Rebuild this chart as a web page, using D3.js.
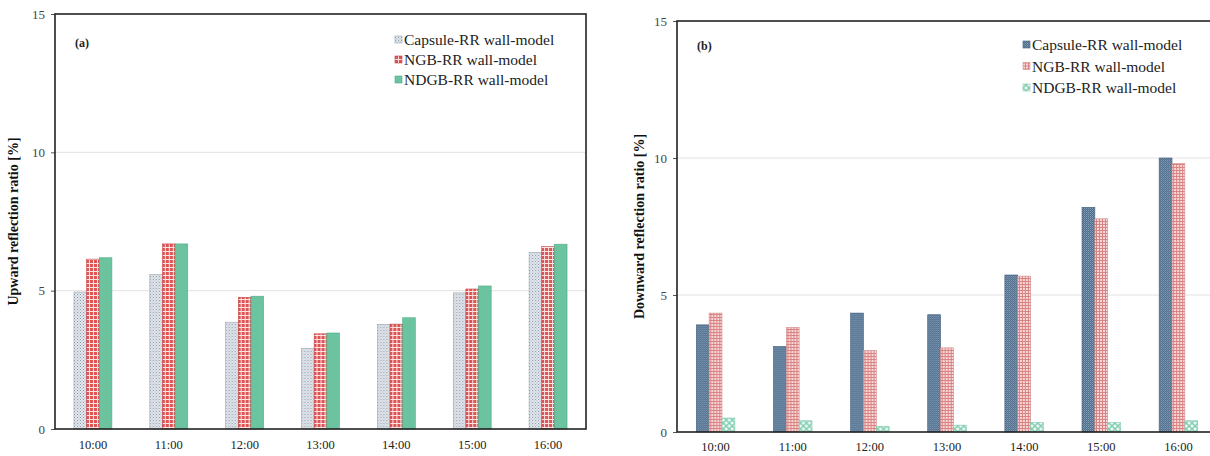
<!DOCTYPE html>
<html>
<head>
<meta charset="utf-8">
<script src="https://cdn.jsdelivr.net/npm/d3@7"></script>
<style>
  body { margin: 0; background: #fff; }
  svg { display: block; }
</style>
</head>
<body>
<svg id="chart" width="1210" height="456"></svg>
<script>
var times = ["10:00", "11:00", "12:00", "13:00", "14:00", "15:00", "16:00"];
var seriesNames = ["Capsule-RR wall-model", "NGB-RR wall-model", "NDGB-RR wall-model"];
var yTicks = [0, 5, 10, 15];

// panel (a) upward
var upCapsule = [4.95, 5.58, 3.86, 2.91, 3.78, 4.92, 6.38];
var upNGB = [6.14, 6.69, 4.76, 3.44, 3.79, 5.06, 6.59];
var upNDGB = [6.19, 6.69, 4.8, 3.47, 4.02, 5.17, 6.68];

// panel (b) downward
var downCapsule = [3.91, 3.12, 4.34, 4.28, 5.73, 8.2, 10.0];
var downNGB = [4.34, 3.82, 2.97, 3.07, 5.69, 7.78, 9.8];
var downNDGB = [0.51, 0.41, 0.21, 0.25, 0.35, 0.34, 0.41];

var svg = d3.select("#chart");
var defs = svg.append("defs");

function makePattern(id, size, bg, draw) {
  var p = defs
    .append("pattern")
    .attr("id", id)
    .attr("patternUnits", "userSpaceOnUse")
    .attr("width", size)
    .attr("height", size);
  p.append("rect").attr("width", size).attr("height", size).attr("fill", bg);
  draw(p);
}

// (a) capsule: light grey-blue fine dots
makePattern("capA", 3, "#e1e6ec", function (p) {
  p.append("rect").attr("x", 0).attr("y", 0).attr("width", 1).attr("height", 1).attr("fill", "#8e99a6");
  p.append("rect").attr("x", 1.5).attr("y", 1.5).attr("width", 1).attr("height", 1).attr("fill", "#a9b3be");
});
// (a) NGB: red plaid with white lines
makePattern("ngbA", 4, "#de5454", function (p) {
  p.append("rect").attr("x", 0).attr("y", 3).attr("width", 4).attr("height", 1).attr("fill", "#fbe3e3");
  p.append("rect").attr("x", 3).attr("y", 0).attr("width", 1).attr("height", 4).attr("fill", "#fbe3e3");
});
// (a) NDGB: solid green
makePattern("ndgbA", 4, "#6cc3a0", function (p) {});

// (b) capsule: dark steel blue checks
makePattern("capB", 2, "#4e6d8c", function (p) {
  p.append("rect").attr("x", 0).attr("y", 0).attr("width", 1).attr("height", 1).attr("fill", "#86a0b8");
  p.append("rect").attr("x", 1).attr("y", 1).attr("width", 1).attr("height", 1).attr("fill", "#6f8aa5");
});
// (b) NGB: light pink grid
makePattern("ngbB", 3, "#f7d7d7", function (p) {
  p.append("rect").attr("x", 0).attr("y", 2).attr("width", 3).attr("height", 1).attr("fill", "#d98383");
  p.append("rect").attr("x", 2).attr("y", 0).attr("width", 1).attr("height", 3).attr("fill", "#d98383");
});
// (b) NDGB: light green lattice
makePattern("ndgbB", 6, "#eef8f3", function (p) {
  p.append("path").attr("d", "M0,0L6,6M6,0L0,6").attr("stroke", "#7fcdb0").attr("stroke-width", 1.4);
});

function drawPanel(cfg) {
  var g = svg.append("g");

  var x = d3
    .scaleBand()
    .domain(times)
    .range([cfg.left, cfg.right])
    .paddingInner(0.5)
    .paddingOuter(0.25);

  var xs = d3.scaleBand().domain([0, 1, 2]).range([0, x.bandwidth()]);

  var y = d3.scaleLinear().domain([0, 15]).range([cfg.bottom, cfg.top]);

  // grid
  g.selectAll(".grid")
    .data([5, 10])
    .enter()
    .append("line")
    .attr("x1", cfg.left)
    .attr("x2", cfg.right)
    .attr("y1", function (d) { return y(d); })
    .attr("y2", function (d) { return y(d); })
    .attr("stroke", "#e2e2e2")
    .attr("stroke-width", 1);

  var rows = times.map(function (t, i) {
    return { time: t, values: [cfg.series[0][i], cfg.series[1][i], cfg.series[2][i]] };
  });

  var groups = g
    .selectAll(".grp")
    .data(rows)
    .enter()
    .append("g")
    .attr("transform", function (d) { return "translate(" + x(d.time) + ",0)"; });

  groups
    .selectAll("rect")
    .data(function (d) { return d.values; })
    .enter()
    .append("rect")
    .attr("x", function (d, i) { return xs(i); })
    .attr("y", function (d) { return y(d); })
    .attr("width", xs.bandwidth())
    .attr("height", function (d) { return y(0) - y(d); })
    .attr("fill", function (d, i) { return "url(#" + cfg.patterns[i] + ")"; })
    .attr("stroke", function (d, i) { return cfg.edges[i]; })
    .attr("stroke-width", 0.6);

  // y axis
  var yAxis = g
    .append("g")
    .attr("transform", "translate(" + cfg.left + ",0)")
    .call(d3.axisLeft(y).tickValues(yTicks).tickSize(4).tickPadding(6));
  yAxis.select(".domain").remove();
  yAxis.selectAll("line").attr("stroke", "#555");
  yAxis
    .selectAll("text")
    .attr("font-family", "Liberation Serif")
    .attr("font-size", "13px")
    .attr("fill", "#444");

  // x labels
  var xAxis = g
    .append("g")
    .attr("transform", "translate(0," + cfg.bottom + ")")
    .call(d3.axisBottom(x).tickSize(0).tickPadding(cfg.xPad));
  xAxis.select(".domain").remove();
  xAxis
    .selectAll("text")
    .attr("font-family", "Liberation Serif")
    .attr("font-size", "12.5px")
    .attr("fill", "#222");

  // frame
  g.append("rect")
    .attr("x", cfg.left)
    .attr("y", cfg.top)
    .attr("width", cfg.right - cfg.left)
    .attr("height", cfg.bottom - cfg.top)
    .attr("fill", "none")
    .attr("stroke", "#222")
    .attr("stroke-width", 1.6);

  // panel tag
  g.append("text")
    .attr("x", cfg.tagX)
    .attr("y", cfg.tagY)
    .attr("font-family", "Liberation Serif")
    .attr("font-weight", "bold")
    .attr("font-size", "12px")
    .attr("fill", "#222")
    .text(cfg.tag);

  // y title
  g.append("text")
    .attr("text-anchor", "middle")
    .attr("transform", "translate(" + cfg.titleX + "," + (cfg.top + cfg.bottom) / 2 + ") rotate(-90)")
    .attr("font-family", "Liberation Serif")
    .attr("font-weight", "bold")
    .attr("font-size", "14px")
    .attr("fill", "#111")
    .text(cfg.title);

  // legend
  var leg = g
    .selectAll(".leg")
    .data(seriesNames)
    .enter()
    .append("g")
    .attr("transform", function (d, i) {
      return "translate(" + cfg.legX + "," + (cfg.legY + i * cfg.legStep) + ")";
    });
  leg.append("rect")
    .attr("x", 0)
    .attr("y", -4)
    .attr("width", 7)
    .attr("height", 7)
    .attr("fill", function (d, i) { return "url(#" + cfg.patterns[i] + ")"; })
    .attr("stroke", function (d, i) { return cfg.edges[i]; })
    .attr("stroke-width", 0.6);
  leg.append("text")
    .attr("x", 9)
    .attr("y", 5)
    .attr("font-family", "Liberation Serif")
    .attr("font-size", "15.5px")
    .attr("fill", "#222")
    .text(function (d) { return d; });
}

drawPanel({
  left: 55, right: 586, top: 14, bottom: 429,
  series: [upCapsule, upNGB, upNDGB],
  patterns: ["capA", "ngbA", "ndgbA"],
  edges: ["#9aa5b1", "#c94545", "#4fab86"],
  tag: "(a)", tagX: 75, tagY: 47,
  title: "Upward reflection ratio [%]", titleX: 18,
  legX: 395, legY: 40, legStep: 20,
  xPad: 11
});

drawPanel({
  left: 677, right: 1217, top: 21, bottom: 432,
  series: [downCapsule, downNGB, downNDGB],
  patterns: ["capB", "ngbB", "ndgbB"],
  edges: ["#3f5d7a", "#d08a8a", "#7fc8ab"],
  tag: "(b)", tagX: 697, tagY: 50,
  title: "Downward reflection ratio [%]", titleX: 644,
  legX: 1023, legY: 45, legStep: 21.5,
  xPad: 10
});
</script>
</body>
</html>
